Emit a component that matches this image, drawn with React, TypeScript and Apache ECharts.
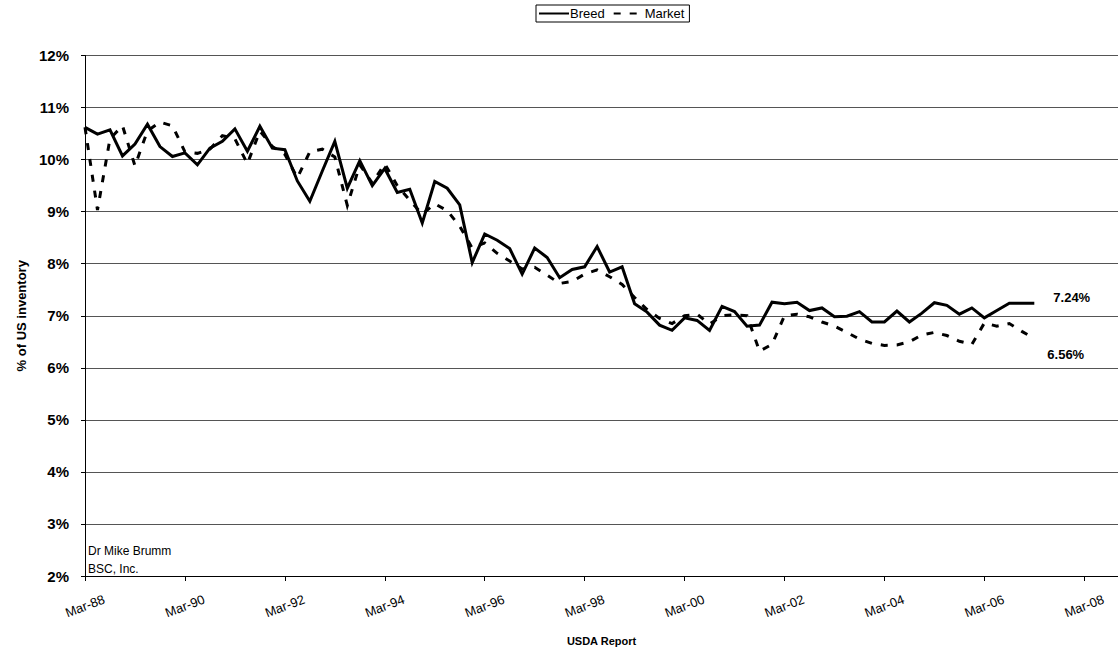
import React, { useEffect, useRef } from "react";
import * as echarts from "echarts";

const FONT = "'Liberation Sans', Arial, sans-serif";

// Quarterly USDA reports, starting Mar-88 (index 0 = Mar-88, one step = one quarter)
const tickLabels = ["Mar-88", "Mar-90", "Mar-92", "Mar-94", "Mar-96", "Mar-98", "Mar-00", "Mar-02", "Mar-04", "Mar-06", "Mar-08"];

const breed = [
  10.62, 10.49, 10.57, 10.07, 10.3, 10.68, 10.25, 10.06, 10.13, 9.9,
  10.22, 10.35, 10.59, 10.16, 10.64, 10.22, 10.19, 9.59, 9.2, 9.78,
  10.35, 9.45, 9.98, 9.5, 9.83, 9.37, 9.43, 8.78, 9.58, 9.45,
  9.13, 8.02, 8.57, 8.45, 8.29, 7.8, 8.3, 8.12, 7.73, 7.89,
  7.94, 8.33, 7.84, 7.94, 7.23, 7.07, 6.82, 6.72, 6.96, 6.91,
  6.72, 7.18, 7.08, 6.8, 6.82, 7.26, 7.23, 7.26, 7.1, 7.15,
  6.98, 6.99, 7.08, 6.88, 6.88, 7.09, 6.88, 7.05, 7.25, 7.2,
  7.03, 7.15, 6.96, 7.1, 7.24, 7.24, 7.24,
];

const market = [
  10.62, 9.03, 10.4, 10.65, 9.88, 10.55, 10.72, 10.65, 10.15, 10.12,
  10.2, 10.46, 10.4, 9.92, 10.55, 10.25, 10.1, 9.65, 10.15, 10.2,
  10.05, 9.12, 9.9, 9.55, 9.92, 9.5, 9.22, 8.95, 9.15, 9.02,
  8.72, 8.3, 8.4, 8.2, 8.05, 7.9, 7.93, 7.78, 7.62, 7.66,
  7.8, 7.88, 7.75, 7.6, 7.35, 7.12, 6.95, 6.85, 7.0, 7.03,
  6.84, 7.0, 7.02, 7.0, 6.32, 6.45, 7.0, 7.03, 6.98, 6.88,
  6.8, 6.68, 6.55, 6.47, 6.43, 6.44, 6.5, 6.63, 6.68, 6.62,
  6.51, 6.45, 6.86, 6.8, 6.85, 6.7, 6.56,
];

const QUARTERS_PER_TICK = 8;
const X_MAX = 82.7;

export default function App() {
  const ref = useRef<HTMLDivElement>(null);

  useEffect(() => {
    document.body.style.margin = "0";
    const chart = echarts.init(ref.current!, null, { renderer: "svg" });
    const toPairs = (arr: number[]) => arr.map((v, i) => [i, v]);

    chart.setOption({
      animation: false,
      backgroundColor: "#fff",
      textStyle: { fontFamily: FONT, color: "#000" },
      legend: {
        left: 536,
        top: 5,
        itemWidth: 30,
        itemHeight: 10,
        itemGap: 8,
        padding: [2, 5, 2, 2],
        borderColor: "#000",
        borderWidth: 1,
        itemStyle: { opacity: 0, borderWidth: 0 },
        textStyle: { fontFamily: FONT, fontSize: 13, color: "#000", padding: [0, 0, 0, -4] },
        data: ["Breed", "Market"],
      },
      grid: { left: 85, right: 0, top: 55.5, bottom: 70, containLabel: false },
      xAxis: {
        type: "value",
        min: 0,
        max: X_MAX,
        interval: QUARTERS_PER_TICK,
        name: "USDA Report",
        nameLocation: "middle",
        nameGap: 59,
        nameTextStyle: { fontFamily: FONT, fontWeight: "bold", fontSize: 11, color: "#000" },
        axisLine: { show: true, lineStyle: { color: "#000", width: 1 } },
        axisTick: { show: true, length: 5, lineStyle: { color: "#000" } },
        splitLine: { show: false },
        axisLabel: {
          rotate: 21,
          align: "center",
          verticalAlign: "middle",
          margin: 30,
          fontFamily: FONT,
          fontSize: 13,
          color: "#000",
          showMaxLabel: false,
          formatter: (v: number) =>
            Math.abs(v % QUARTERS_PER_TICK) < 1e-6 ? tickLabels[Math.round(v / QUARTERS_PER_TICK)] ?? "" : "",
        },
      },
      yAxis: {
        type: "value",
        min: 2,
        max: 12,
        interval: 1,
        name: "% of US inventory",
        nameLocation: "middle",
        nameGap: 53,
        nameTextStyle: { fontFamily: FONT, fontWeight: "bold", fontSize: 13, color: "#000" },
        axisLine: { show: true, lineStyle: { color: "#000", width: 1 } },
        axisTick: { show: true, length: 4, lineStyle: { color: "#000" } },
        splitLine: { show: true, lineStyle: { color: "#555", width: 1 } },
        axisLabel: {
          margin: 16,
          fontFamily: FONT,
          fontWeight: "bold",
          fontSize: 15,
          color: "#000",
          formatter: (v: number) => `${v}%`,
        },
      },
      series: [
        {
          name: "Breed",
          type: "line",
          data: toPairs(breed),
          symbol: "none",
          showSymbol: false,
          lineStyle: { color: "#000", width: 3, type: "solid", join: "miter" },
          itemStyle: { color: "#000" },
          endLabel: {
            show: true,
            formatter: (p: any) => `${p.value[1].toFixed(2)}%`,
            distance: 19,
            offset: [0, -6],
            fontFamily: FONT,
            fontWeight: "bold",
            fontSize: 13,
            color: "#000",
          },
          z: 3,
        },
        {
          name: "Market",
          type: "line",
          data: toPairs(market),
          symbol: "none",
          showSymbol: false,
          lineStyle: { color: "#000", width: 3, type: [7, 9], join: "miter" },
          itemStyle: { color: "#000" },
          endLabel: {
            show: true,
            formatter: (p: any) => `${p.value[1].toFixed(2)}%`,
            distance: 13,
            offset: [0, 16],
            fontFamily: FONT,
            fontWeight: "bold",
            fontSize: 13,
            color: "#000",
          },
          z: 2,
        },
      ],
      graphic: [
        {
          type: "text",
          left: 88,
          top: 545,
          style: { text: "Dr Mike Brumm", font: `12px ${FONT}`, fill: "#000" },
        },
        {
          type: "text",
          left: 88,
          top: 563,
          style: { text: "BSC, Inc.", font: `12px ${FONT}`, fill: "#000" },
        },
      ],
    });

    return () => chart.dispose();
  }, []);

  return <div ref={ref} style={{ width: 1118, height: 651 }} />;
}
